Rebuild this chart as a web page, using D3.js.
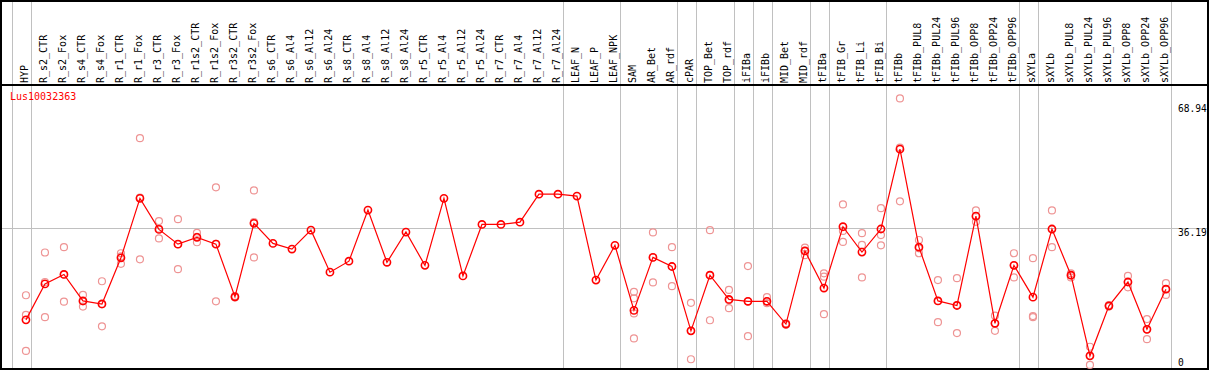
<!DOCTYPE html>
<html>
<head>
<meta charset="utf-8">
<script src="https://cdn.jsdelivr.net/npm/d3@7"></script>
<style>
  html, body { margin: 0; padding: 0; background: #fff; }
  svg { display: block; }
  text { font-family: "DejaVu Sans Mono", monospace; font-size: 10px; }
</style>
</head>
<body>
<div id="chart"></div>
<script>
// sample names along the top
const categories = [
  'HYP', 'R_s2_CTR', 'R_s2_Fox', 'R_s4_CTR', 'R_s4_Fox', 'R_r1_CTR', 'R_r1_Fox', 'R_r3_CTR', 'R_r3_Fox',
  'R_r1s2_CTR', 'R_r1s2_Fox', 'R_r3s2_CTR', 'R_r3s2_Fox', 'R_s6_CTR', 'R_s6_Al4', 'R_s6_Al12', 'R_s6_Al24',
  'R_s8_CTR', 'R_s8_Al4', 'R_s8_Al12', 'R_s8_Al24', 'R_r5_CTR', 'R_r5_Al4', 'R_r5_Al12', 'R_r5_Al24',
  'R_r7_CTR', 'R_r7_Al4', 'R_r7_Al12', 'R_r7_Al24', 'LEAF_N', 'LEAF_P', 'LEAF_NPK', 'SAM', 'AR_Bet', 'AR_rdf',
  'cPAR', 'TOP_Bet', 'TOP_rdf', 'iFIBa', 'iFIBb', 'MID_Bet', 'MID_rdf', 'tFIBa', 'tFIB_Gr', 'tFIB_Li', 'tFIB_Bi',
  'tFIBb', 'tFIBb_PUL8', 'tFIBb_PUL24', 'tFIBb_PUL96', 'tFIBb_OPP8', 'tFIBb_OPP24', 'tFIBb_OPP96',
  'sXYLa', 'sXYLb', 'sXYLb_PUL8', 'sXYLb_PUL24', 'sXYLb_PUL96', 'sXYLb_OPP8', 'sXYLb_OPP24', 'sXYLb_OPP96'
];

// mean expression per sample
const means = [
  12.0, 21.5, 24.0, 17.0, 16.2, 28.4, 44.1, 35.9, 32.0, 33.8, 32.0, 18.1, 37.5,
  32.2, 30.7, 35.7, 24.6, 27.5, 41.0, 27.2, 35.2, 26.4, 44.1, 23.6, 37.2, 37.2, 37.8, 45.2, 45.2,
  44.7, 22.5, 31.7, 14.5, 28.5, 26.1, 9.1, 23.8, 17.4, 16.9, 16.9, 10.9, 30.2,
  20.4, 36.6, 29.9, 36.0, 57.1, 31.2, 17.0, 15.8, 39.4, 11.1, 26.4,
  18.0, 36.0, 23.8, 2.5, 15.7, 22.0, 9.5, 20.1
];

// individual replicates (empty where none are shown)
const replicates = [
  [18.5, 13.3, 3.8], [29.8, 22.0, 12.7], [31.2, 24.0, 16.8], [18.6, 16.9, 15.5], [22.2, 16.1, 10.3],
  [29.6, 28.8, 26.8], [60.0, 44.3, 28.0], [38.1, 36.1, 33.5], [38.6, 32.0, 25.4], [35.0, 33.9, 32.5],
  [47.0, 32.1, 16.9], [18.3, 18.1, 17.9], [46.2, 37.8, 28.5],
  [], [], [], [], [], [], [], [], [], [], [], [], [], [], [], [], [], [], [],
  [19.4, 17.7, 13.7, 7.1], [35.1, 28.5, 21.9], [31.2, 26.1, 20.9], [16.5, 9.1, 1.6], [35.7, 23.8, 11.9],
  [19.9, 17.2, 15.1], [26.2, 16.9, 7.7], [18.0, 16.9, 16.4], [11.1, 10.9, 10.7], [31.1, 30.2, 29.1],
  [24.3, 23.4, 13.5], [42.5, 35.5, 32.6], [34.9, 31.8, 23.2], [41.5, 34.4, 31.7], [70.5, 57.5, 43.3],
  [33.1, 30.9, 29.6], [22.5, 17.0, 11.4], [23.0, 15.9, 8.5], [40.9, 39.4, 37.9], [13.1, 11.1, 9.1],
  [29.6, 26.4, 23.2], [28.3, 13.0, 12.7], [40.9, 35.9, 31.2], [24.3, 23.8, 23.2], [4.9, 2.5, 0.1],
  [15.9, 15.7, 15.5], [23.6, 22.0, 20.6], [12.2, 9.5, 6.9], [21.7, 20.1, 18.6]
];

// first sample of each group (separator drawn on its left), plus the end
const groupStarts = ['HYP', 'R_s2_CTR', 'LEAF_N', 'SAM', 'cPAR', 'TOP_Bet', 'iFIBa', 'iFIBb', 'MID_Bet',
  'tFIBa', 'tFIB_Gr', 'tFIBb', 'sXYLa', 'sXYLb'];

const yTicks = [0, 36.19, 68.94];
const gridValues = [36.19];
const geneName = 'Lus10032363';

const width = 1209, height = 370;
const headerBottom = 85;

const svg = d3.select('#chart').append('svg')
  .attr('width', width)
  .attr('height', height);

const x = d3.scaleBand()
  .domain(categories)
  .range([11.7, 11.7 + 19 * categories.length])
  .padding(0);

const y = d3.scaleLinear()
  .domain([0, 68.94])
  .range([365.3, 104.3]);

const px = d => x(d) + x.bandwidth() * 0.75;
const crisp = v => Math.round(v) + 0.5;

// vertical separators
const seps = groupStarts.map(c => x(c)).concat([x.range()[1]]);
svg.append('g')
  .selectAll('line')
  .data(seps)
  .enter()
  .append('line')
  .attr('x1', d => crisp(d)).attr('x2', d => crisp(d))
  .attr('y1', 0).attr('y2', height)
  .attr('stroke', '#c0c0c0')
  .attr('stroke-width', 1);

// horizontal grid
svg.append('g')
  .selectAll('line')
  .data(gridValues)
  .enter()
  .append('line')
  .attr('x1', 0).attr('x2', width)
  .attr('y1', d => crisp(y(d))).attr('y2', d => crisp(y(d)))
  .attr('stroke', '#c0c0c0')
  .attr('stroke-width', 1);

// frame + header line
svg.append('rect')
  .attr('x', 1).attr('y', 1)
  .attr('width', width - 2).attr('height', height - 2)
  .attr('fill', 'none')
  .attr('stroke', '#000')
  .attr('stroke-width', 2);
svg.append('line')
  .attr('x1', 0).attr('x2', width)
  .attr('y1', headerBottom).attr('y2', headerBottom)
  .attr('stroke', '#000')
  .attr('stroke-width', 2);

// rotated sample labels
svg.append('g')
  .selectAll('text')
  .data(categories)
  .enter()
  .append('text')
  .attr('transform', d => `translate(${x(d) + 15.8},${headerBottom - 2}) rotate(-90)`)
  .attr('fill', '#000')
  .text(d => d);

// y labels (on the right)
svg.append('g')
  .selectAll('text')
  .data(yTicks)
  .enter()
  .append('text')
  .attr('x', 1178)
  .attr('y', d => Math.min(y(d) + 7.5, 366))
  .attr('fill', '#000')
  .style('font-size', '9.6px')
  .text(d => d === 0 ? '0' : d.toFixed(2));

svg.append('text')
  .attr('x', 10)
  .attr('y', 100)
  .attr('fill', '#ff0000')
  .text(geneName);

// replicate circles
const repPoints = [];
replicates.forEach((vals, i) => vals.forEach(v => repPoints.push({ c: categories[i], v })));
svg.append('g')
  .selectAll('circle')
  .data(repPoints)
  .enter()
  .append('circle')
  .attr('cx', d => px(d.c))
  .attr('cy', d => y(d.v))
  .attr('r', 3.5)
  .attr('fill', 'none')
  .attr('stroke', '#ee9494')
  .attr('stroke-width', 1.2);

// mean line
const meanData = categories.map((c, i) => ({ c, v: means[i] }));
svg.append('path')
  .datum(meanData)
  .attr('fill', 'none')
  .attr('stroke', '#ff0000')
  .attr('stroke-width', 1.2)
  .attr('d', d3.line().x(d => px(d.c)).y(d => y(d.v)));

svg.append('g')
  .selectAll('circle')
  .data(meanData)
  .enter()
  .append('circle')
  .attr('cx', d => px(d.c))
  .attr('cy', d => y(d.v))
  .attr('r', 3.6)
  .attr('fill', 'none')
  .attr('stroke', '#ff0000')
  .attr('stroke-width', 1.6);
</script>
</body>
</html>
